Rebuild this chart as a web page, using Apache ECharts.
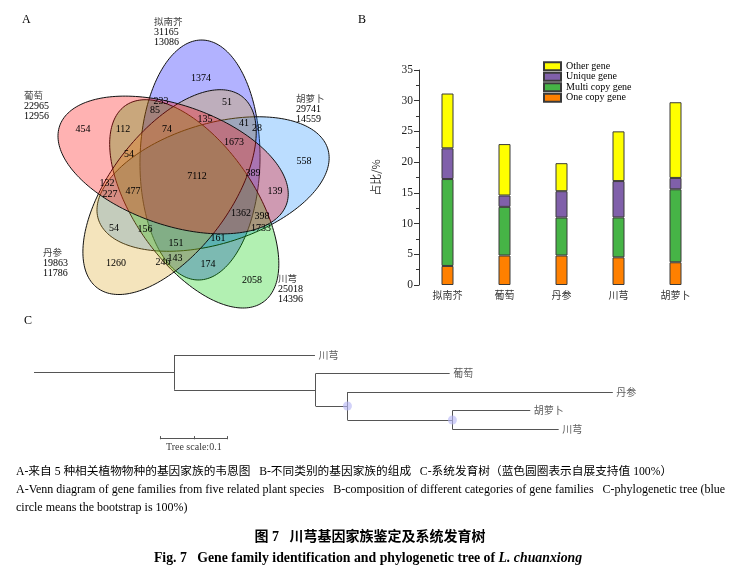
<!DOCTYPE html>
<html><head><meta charset="utf-8">
<script src="https://cdn.jsdelivr.net/npm/echarts@6/dist/echarts.min.js"></script>
<style>html,body{margin:0;padding:0;background:#fff}#c{width:733px;height:572px}</style>
</head><body><div id="c"></div>
<script>
// ---------- Panel B data ----------
const species = ['拟南芥', '葡萄', '丹参', '川芎', '胡萝卜'];
const oneCopy = [3.1, 4.8, 4.8, 4.5, 3.7];
const multiCopy = [14.15, 7.92, 6.18, 6.5, 11.88];
const uniqueGene = [5.0, 1.85, 4.29, 5.92, 1.85];
const otherGene = [8.92, 8.37, 4.56, 8.09, 12.32];
const yTicks = [0, 35, 5];

// ---------- Panel A data ----------
const vennSets = ['拟南芥', '胡萝卜', '川芎', '丹参', '葡萄'];
const vennGenes = [31165, 29741, 25018, 19863, 22965];
const vennFamilies = [13086, 14559, 14396, 11786, 12956];
const vennRegionCounts = [1374, 233, 51, 85, 454, 112, 74, 135, 41, 28, 1673, 54, 558, 7112, 389, 132, 477, 139, 227, 1362, 398, 1733, 54, 156, 151, 161, 1260, 246, 143, 174, 2058];

// ---------- Panel C data ----------
const treeLeaves = ['川芎', '葡萄', '丹参', '胡萝卜', '川芎'];
const tree = {len: 0.207, children: [
  {leaf: 0, len: 0.208},
  {len: 0.209, children: [
    {leaf: 1, len: 0.198},
    {len: 0.047, support: 100, children: [
      {leaf: 2, len: 0.392},
      {len: 0.155, support: 100, children: [
        {leaf: 3, len: 0.115},
        {leaf: 4, len: 0.157}
      ]}
    ]}
  ]}
]};
const treeScaleLen = 0.1;

// ---------- layout (positions / styles) ----------
const serif = "'Liberation Serif','Times New Roman','Noto Sans CJK SC',serif";
const cjk = "'Noto Sans CJK SC','Liberation Sans',sans-serif";
const vennCenter = [190, 181];
const ell = {offset: [10, 21], axisDeg: 89, a: 120, b: 60};
const vennRot = [0, -72, -144, 144, 72];
const vennFill = ['rgba(0,0,255,0.3)', 'rgba(30,144,255,0.3)', 'rgba(0,205,0,0.3)', 'rgba(218,165,32,0.3)', 'rgba(255,0,0,0.3)'];
const vennRegionPos = [[201,78],[161,101],[227,102],[155,110],[83,129],[123,129],[167,129],[205,119],[244,123],[257,128],[234,142],[129,154],[304,161],[197,176],[253,173],[107,183],[133,191],[275,191],[110,194],[241,213],[262,216],[261,228],[114,228],[145,229],[176,243],[218,238],[116,263],[163,262],[175,258],[208,264],[252,280]];
const vennLabelPos = [[154,21],[296,98],[278,278],[43,252],[24,95]];

function ellipsePts(rotDeg) {
  const r = rotDeg * Math.PI / 180;
  const ox = ell.offset[0] * Math.cos(r) - ell.offset[1] * Math.sin(r);
  const oy = ell.offset[0] * Math.sin(r) + ell.offset[1] * Math.cos(r);
  const al = (ell.axisDeg + rotDeg) * Math.PI / 180;
  const pts = [];
  for (let i = 0; i < 200; i++) {
    const t = i / 200 * 2 * Math.PI;
    const mx = ox + ell.a * Math.cos(t) * Math.cos(al) - ell.b * Math.sin(t) * Math.sin(al);
    const my = oy + ell.a * Math.cos(t) * Math.sin(al) + ell.b * Math.sin(t) * Math.cos(al);
    pts.push([vennCenter[0] + mx, vennCenter[1] - my]);
  }
  return pts;
}

function txt(x, y, text, size, opts) {
  opts = opts || {};
  return {type: 'text', x: x, y: y, z: 10, silent: true, style: Object.assign({
    text: text, fontSize: size, fontFamily: serif, fill: '#000',
    textAlign: 'left', align: 'left', textVerticalAlign: 'middle', verticalAlign: 'middle'
  }, opts)};
}

const graphics = [];
vennRot.forEach((rot, i) => {
  graphics.push({type: 'polygon', z: 1, silent: true, shape: {points: ellipsePts(rot)},
    style: {fill: vennFill[i], stroke: '#111', lineWidth: 1}});
});
vennRegionCounts.forEach((v, i) => {
  graphics.push(txt(vennRegionPos[i][0], vennRegionPos[i][1], String(v), 10, {textAlign: 'center', align: 'center'}));
});
vennSets.forEach((s, i) => {
  const p = vennLabelPos[i];
  graphics.push(txt(p[0], p[1], s, 9.5, {fontFamily: cjk, fill: '#444'}));
  graphics.push(txt(p[0], p[1] + 11, String(vennGenes[i]), 10));
  graphics.push(txt(p[0], p[1] + 21.8, String(vennFamilies[i]), 10));
});
graphics.push(txt(22, 20, 'A', 12));
graphics.push(txt(358, 20, 'B', 12));
graphics.push(txt(24, 321, 'C', 12));
// captions
graphics.push(txt(16, 472, 'A-来自 5 种相关植物物种的基因家族的韦恩图   B-不同类别的基因家族的组成   C-系统发育树（蓝色圆圈表示自展支持值 100%）', 11.7));
graphics.push(txt(16, 490, 'A-Venn diagram of gene families from five related plant species   B-composition of different categories of gene families   C-phylogenetic tree (blue', 12));
graphics.push(txt(16, 508, 'circle means the bootstrap is 100%)', 12));
graphics.push(txt(370, 537, '图 7   川芎基因家族鉴定及系统发育树', 14, {fontWeight: 'bold', textAlign: 'center', align: 'center'}));
graphics.push({type: 'text', x: 368, y: 558, z: 10, silent: true, style: {
  text: '{b|Fig. 7   Gene family identification and phylogenetic tree of }{i|L. chuanxiong}',
  textAlign: 'center', align: 'center', textVerticalAlign: 'middle', verticalAlign: 'middle',
  rich: {
    b: {fontSize: 13.8, fontWeight: 'bold', fontFamily: serif, fill: '#000'},
    i: {fontSize: 13.8, fontWeight: 'bold', fontStyle: 'italic', fontFamily: serif, fill: '#000'}
  }}});

// ---------- tree layout ----------
const segs = [], leafPts = [], supportPts = [];
function lay(node, x0) {
  const x1 = x0 + node.len;
  let y;
  if (node.children) {
    const ys = node.children.map(c => lay(c, x1));
    y = (ys[0] + ys[ys.length - 1]) / 2;
    segs.push({coords: [[x1, ys[0]], [x1, ys[ys.length - 1]]]});
    if (node.support === 100) supportPts.push([x1, y]);
  } else {
    y = node.leaf;
    leafPts.push([x1, y, treeLeaves[node.leaf]]);
  }
  segs.push({coords: [[x0, y], [x1, y]]});
  return y;
}
lay(tree, 0);
const sb0 = 0.186, sbY = 4.49;
const scaleSegs = [
  {coords: [[sb0, sbY], [sb0 + treeScaleLen, sbY]]},
  {coords: [[sb0, sbY - 0.12], [sb0, sbY + 0.05]]},
  {coords: [[sb0 + treeScaleLen / 2, sbY - 0.12], [sb0 + treeScaleLen / 2, sbY + 0.05]]},
  {coords: [[sb0 + treeScaleLen, sbY - 0.12], [sb0 + treeScaleLen, sbY + 0.05]]}
];

const barStyle = (c) => ({color: c, borderColor: '#3a3a3a', borderWidth: 1});
const chart = echarts.init(document.getElementById('c'), null, {renderer: 'canvas'});
chart.setOption({
  animation: false,
  backgroundColor: '#fff',
  grid: [
    {left: 419, top: 70, width: 285, height: 215},
    {left: 34, top: 345.7, width: 677, height: 111.4}
  ],
  xAxis: [
    {type: 'category', gridIndex: 0, data: species, axisLine: {show: false}, axisTick: {show: false},
     axisLabel: {margin: 5, fontSize: 10, color: '#333', fontFamily: cjk}},
    {type: 'value', gridIndex: 1, min: 0, max: 1, show: false}
  ],
  yAxis: [
    {type: 'value', gridIndex: 0, min: yTicks[0], max: yTicks[1], interval: yTicks[2],
     name: '占比/%', nameLocation: 'middle', nameGap: 38, nameRotate: 90,
     nameTextStyle: {fontSize: 11, color: '#333', fontFamily: cjk},
     axisLine: {show: true, lineStyle: {color: '#333'}},
     axisTick: {show: true, length: 5, lineStyle: {color: '#333'}},
     minorTick: {show: true, splitNumber: 2, length: 3, lineStyle: {color: '#333'}},
     splitLine: {show: false},
     axisLabel: {fontSize: 11.5, color: '#222', fontFamily: serif, margin: 6}},
    {type: 'value', gridIndex: 1, min: -0.5, max: 5.5, inverse: true, show: false}
  ],
  legend: {
    data: ['Other gene', 'Unique gene', 'Multi copy gene', 'One copy gene'],
    orient: 'vertical', left: 543, top: 61, padding: 0, itemWidth: 17, itemHeight: 8, itemGap: 0, icon: 'rect',
    textStyle: {fontFamily: serif, fontSize: 10, color: '#000', lineHeight: 10.5}
  },
  series: [
    {name: 'One copy gene', type: 'bar', stack: 'g', barWidth: 12, data: oneCopy, itemStyle: barStyle('#ff8000')},
    {name: 'Multi copy gene', type: 'bar', stack: 'g', barWidth: 12, data: multiCopy, itemStyle: barStyle('#46b446')},
    {name: 'Unique gene', type: 'bar', stack: 'g', barWidth: 12, data: uniqueGene, itemStyle: barStyle('#8060aa')},
    {name: 'Other gene', type: 'bar', stack: 'g', barWidth: 12, data: otherGene, itemStyle: barStyle('#ffff00')},
    {type: 'lines', coordinateSystem: 'cartesian2d', xAxisIndex: 1, yAxisIndex: 1, silent: true,
     lineStyle: {color: '#555', width: 1, opacity: 1}, data: segs},
    {type: 'lines', coordinateSystem: 'cartesian2d', xAxisIndex: 1, yAxisIndex: 1, silent: true,
     lineStyle: {color: '#555', width: 1, opacity: 1}, data: scaleSegs},
    {type: 'scatter', xAxisIndex: 1, yAxisIndex: 1, silent: true, symbolSize: 9, z: 5,
     itemStyle: {color: 'rgba(185,185,245,0.8)'}, data: supportPts},
    {type: 'scatter', xAxisIndex: 1, yAxisIndex: 1, silent: true, symbolSize: 1,
     itemStyle: {color: 'rgba(0,0,0,0)'}, data: leafPts,
     label: {show: true, position: 'right', distance: 3, fontSize: 10, color: '#333', fontFamily: cjk,
             formatter: p => p.data[2]}},
    {type: 'scatter', xAxisIndex: 1, yAxisIndex: 1, silent: true, symbolSize: 1,
     itemStyle: {color: 'rgba(0,0,0,0)'}, data: [[sb0 + treeScaleLen / 2, 4.95]],
     label: {show: true, position: 'inside', fontSize: 10, color: '#000', fontFamily: serif,
             formatter: () => 'Tree scale:' + treeScaleLen}}
  ],
  graphic: graphics
});
</script></body></html>
